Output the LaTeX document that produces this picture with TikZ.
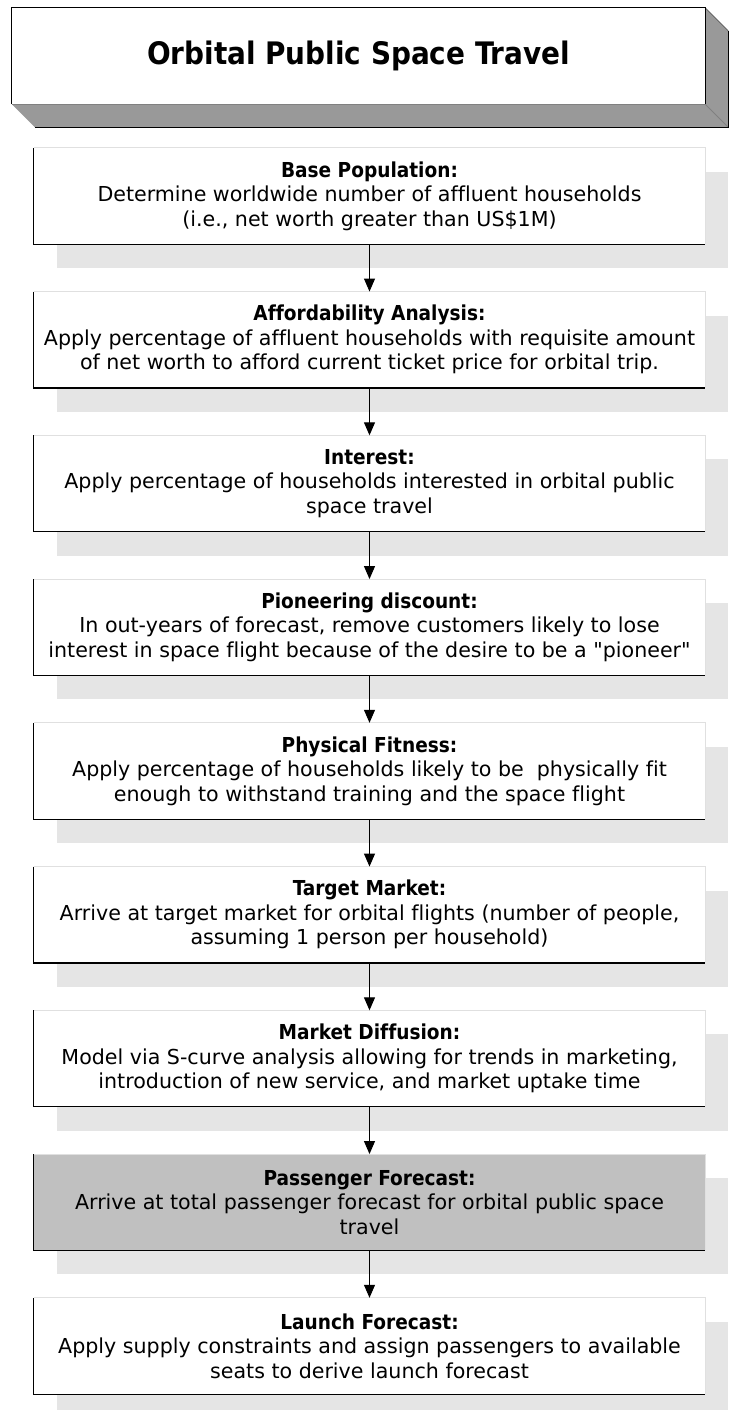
\documentclass[tikz,border=0pt]{standalone}
\usepackage{fontspec}
\setmainfont{DejaVu Sans}[Ligatures={TeXOff,NoCommon}]
\newfontfamily\hdrfont{DejaVu Sans Condensed Bold}[Ligatures={TeXOff,NoCommon}]
\usetikzlibrary{arrows.meta,backgrounds}
\definecolor{shadowgray}{HTML}{E5E5E5}
\definecolor{bevelgray}{HTML}{999999}
\definecolor{edgegray}{HTML}{E0E0E0}
\definecolor{passgray}{HTML}{C0C0C0}
\newcommand{\hd}[1]{{\hdrfont #1}}
\begin{document}
\begin{tikzpicture}[x=1pt,y=-1pt,
  stepbox/.style={minimum width=671pt,minimum height=96pt,inner sep=0pt,fill=white,
    align=center,font=\fontsize{20.6pt}{24.5pt}\selectfont},
  titlebox/.style={minimum width=693pt,minimum height=96pt,inner sep=0pt,fill=white,
    font=\hdrfont\fontsize{31pt}{37pt}\selectfont},
  darkedge/.style={line width=1.3pt,black},
  lightedge/.style={line width=1pt,edgegray},
  arr/.style={line width=1pt,-{Triangle[length=13pt,width=11pt]}}
]
\useasboundingbox (0,0) rectangle (731,1410);

\node[titlebox] (title) at (358.5,56) {Orbital Public Space Travel};

\node[stepbox] (b1) at (369.5,196) {\hd{Base Population:}\\Determine worldwide number of affluent households\\(i.e., net worth greater than US\$1M)};
\node[stepbox] (b2) at (369.5,339.75) {\hd{Affordability Analysis:}\\Apply percentage of affluent households with requisite amount\\of net worth to afford current ticket price for orbital trip.};
\node[stepbox] (b3) at (369.5,483.5) {\hd{Interest:}\\Apply percentage of households interested in orbital public\\space travel};
\node[stepbox] (b4) at (369.5,627.25) {\hd{Pioneering discount:}\\In out-years of forecast, remove customers likely to lose\\interest in space flight because of the desire to be a "pioneer"};
\node[stepbox] (b5) at (369.5,771) {\hd{Physical Fitness:}\\Apply percentage of households likely to be\ \ physically fit\\enough to withstand training and the space flight};
\node[stepbox] (b6) at (369.5,914.75) {\hd{Target Market:}\\Arrive at target market for orbital flights (number of people,\\assuming 1 person per household)};
\node[stepbox] (b7) at (369.5,1058.5) {\hd{Market Diffusion:}\\Model via S-curve analysis allowing for trends in marketing,\\introduction of new service, and market uptake time};
\node[stepbox,fill=passgray] (b8) at (369.5,1202.25) {\hd{Passenger Forecast:}\\Arrive at total passenger forecast for orbital public space\\travel};
\node[stepbox] (b9) at (369.5,1346) {\hd{Launch Forecast:}\\Apply supply constraints and assign passengers to available\\seats to derive launch forecast};

\begin{pgfonlayer}{background}
  \fill[bevelgray] (title.south west) -- ([shift={(23pt,-23pt)}]title.south west)
    -- ([shift={(23pt,-23pt)}]title.south east) -- ([shift={(23pt,-23pt)}]title.north east)
    -- (title.north east) -- cycle;
  \foreach \n in {b1,b2,b3,b4,b5,b6,b7,b8,b9}{
    \fill[shadowgray] ([shift={(23pt,-24pt)}]\n.north west) rectangle ([shift={(23pt,-24pt)}]\n.south east);
  }
\end{pgfonlayer}

% title bevel edges
\draw[gray!70!black,line width=0.8pt] (title.north east) -- ([shift={(23pt,-23pt)}]title.north east);
\draw[gray,line width=0.8pt] (title.south east) -- ([shift={(23pt,-23pt)}]title.south east);
\draw[darkedge] ([shift={(23pt,-23pt)}]title.south west) -- ([shift={(23pt,-23pt)}]title.south east)
  -- ([shift={(23pt,-23pt)}]title.north east);
\draw[gray,line width=1pt] (title.south west) -- (title.south east);
\draw[darkedge] (title.south west) -- (title.north west) -- (title.north east) -- (title.south east);

% step box edges
\foreach \n in {b1,b2,b3,b4,b5,b6,b7,b8,b9}{
  \draw[lightedge] (\n.north west) -- (\n.north east) -- (\n.south east);
  \draw[darkedge] (\n.north west) -- (\n.south west) -- (\n.south east);
}

% connectors
\draw[arr] (b1.south) -- (b2.north);
\draw[arr] (b2.south) -- (b3.north);
\draw[arr] (b3.south) -- (b4.north);
\draw[arr] (b4.south) -- (b5.north);
\draw[arr] (b5.south) -- (b6.north);
\draw[arr] (b6.south) -- (b7.north);
\draw[arr] (b7.south) -- (b8.north);
\draw[arr] (b8.south) -- (b9.north);
\end{tikzpicture}
\end{document}
